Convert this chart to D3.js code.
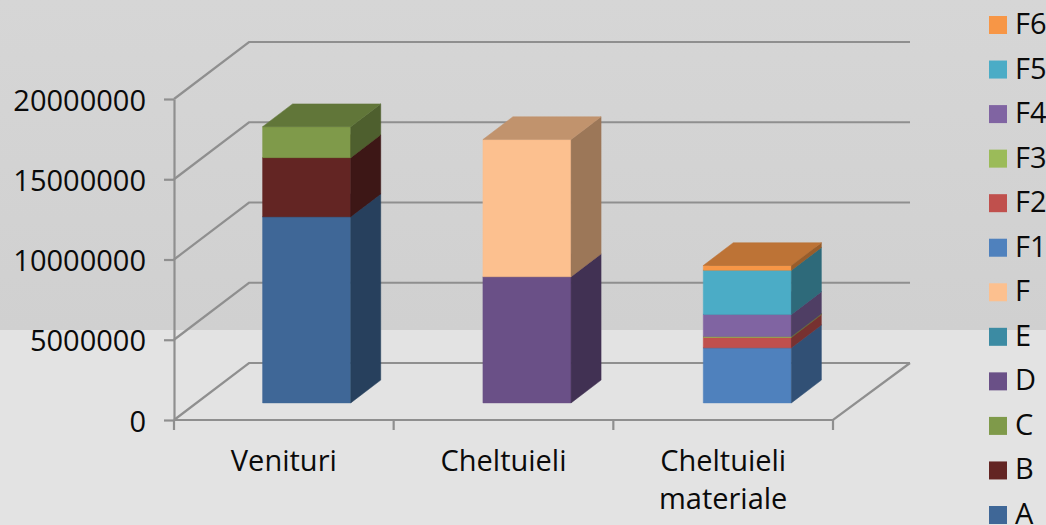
<!DOCTYPE html>
<html>
<head>
<meta charset="utf-8">
<script src="https://cdn.jsdelivr.net/npm/d3@7"></script>
<style>
  html, body { margin: 0; padding: 0; background: #e3e3e3; overflow: hidden; }
  svg { display: block; }
  text { font-family: "Open Sans", sans-serif; fill: #0a0a0a; }
</style>
</head>
<body>
<div id="chart"></div>
<script>
const categories = ['Venituri', 'Cheltuieli', 'Cheltuieli materiale']
const yTicks = [0, 5000000, 10000000, 15000000, 20000000]

// one value per category, in stacking order
const seriesNames = ['A', 'B', 'C', 'D', 'E', 'F', 'F1', 'F2', 'F3', 'F4', 'F5', 'F6']
const seriesColors = ['#3f6797', '#632523', '#7f9a4a', '#6a5087', '#3c8ba3', '#fcc08f',
  '#4f81bd', '#c0504d', '#9bbb59', '#8064a2', '#4bacc6', '#f79646']
const valuesA = [11600000, 0, 0]
const valuesB = [3680000, 0, 0]
const valuesC = [1930000, 0, 0]
const valuesD = [0, 7860000, 0]
const valuesE = [0, 0, 0]
const valuesF = [0, 8550000, 0]
const valuesF1 = [0, 0, 3430000]
const valuesF2 = [0, 0, 650000]
const valuesF3 = [0, 0, 60000]
const valuesF4 = [0, 0, 1370000]
const valuesF5 = [0, 0, 2750000]
const valuesF6 = [0, 0, 300000]
const seriesValues = [valuesA, valuesB, valuesC, valuesD, valuesE, valuesF,
  valuesF1, valuesF2, valuesF3, valuesF4, valuesF5, valuesF6]

const width = 1046
const height = 525
const gridColor = '#8f8f8f'
const fontSize = 29

const svg = d3.select('#chart').append('svg').attr('width', width).attr('height', height)

const xScaler = d3.scaleBand().domain(categories).range([174, 833]).paddingInner(0.595).paddingOuter(0.2975)
// bars and back wall drift slightly right of the tick spacing in the picture
const barScaler = d3.scaleBand().domain(categories).range([174, 835]).paddingInner(0.6).paddingOuter(0.3)
const yScaler = d3.scaleLinear().domain([0, 20000000]).range([420, 99])
// the 3d look: a point further back moves right and up
const depthX = d3.scaleLinear().domain([0, 1]).range([0, 75])
const depthY = d3.scaleLinear().domain([0, 1]).range([0, -57])
const legendY = d3.scalePoint().domain(seriesNames.slice().reverse()).range([25, 515])

const project = (x, y, depth) => [x + depthX(depth), y + depthY(depth)]
const polygon = pts => pts.map(p => p.join(',')).join(' ')

const defs = svg.append('defs')
const gradient = defs.append('linearGradient').attr('id', 'wall').attr('x1', 0).attr('x2', 0).attr('y1', 0).attr('y2', 1)
gradient.append('stop').attr('offset', '0%').attr('stop-color', '#d6d6d6')
gradient.append('stop').attr('offset', '100%').attr('stop-color', '#d0d0d0')

svg.append('rect').attr('width', width).attr('height', height).attr('fill', '#e3e3e3')
svg.append('rect').attr('width', width).attr('height', 330).attr('fill', 'url(#wall)')

// grid lines, going back along the side wall and across the back wall
const grid = svg.append('g').attr('fill', 'none').attr('stroke', gridColor).attr('stroke-width', 2.2)
grid.selectAll('polyline')
  .data(yTicks)
  .join('polyline')
  .attr('points', d => polygon([
    project(xScaler.range()[0], yScaler(d), 0),
    project(xScaler.range()[0], yScaler(d), 1),
    project(barScaler.range()[1], yScaler(d), 1)
  ]))
grid.append('polyline')
  .attr('points', polygon([
    project(xScaler.range()[0], yScaler(0), 0),
    project(xScaler.range()[1], yScaler(0), 0),
    project(barScaler.range()[1], yScaler(0), 1)
  ]))

const yAxis = d3.axisLeft(yScaler).tickValues(yTicks).tickFormat(d3.format('d')).tickSize(10).tickSizeOuter(0).tickPadding(18)
const yAxisGroup = svg.append('g').attr('transform', `translate(${xScaler.range()[0]},0)`).call(yAxis)
yAxisGroup.selectAll('path, line').attr('stroke', gridColor).attr('stroke-width', 2.2)
yAxisGroup.selectAll('text')
  .attr('font-size', fontSize)
  .attr('font-family', '"Open Sans", sans-serif')
  .attr('fill', '#0a0a0a')
  .attr('dy', '0.38em')

// ticks sit between the categories
const tickXs = d3.range(categories.length + 1).map(i => xScaler.range()[0] + i * xScaler.step())
svg.append('g').selectAll('line')
  .data(tickXs)
  .join('line')
  .attr('x1', d => d).attr('x2', d => d)
  .attr('y1', yScaler(0)).attr('y2', yScaler(0) + 10)
  .attr('stroke', gridColor).attr('stroke-width', 2.2)

// stacked boxes
const barDepthFront = 0.3
const barDepthBack = 0.7
const bars = svg.append('g')
categories.forEach((category, catIdx) => {
  let total = 0
  seriesValues.forEach((values, idx) => {
    const value = values[catIdx]
    if (!value) return
    const x0 = barScaler(category)
    const x1 = x0 + barScaler.bandwidth()
    const yBottom = yScaler(total)
    const yTop = yScaler(total + value)
    total += value
    const color = d3.color(seriesColors[idx])
    const faces = [
      { pts: [project(x0, yBottom, barDepthFront), project(x1, yBottom, barDepthFront), project(x1, yTop, barDepthFront), project(x0, yTop, barDepthFront)], fill: color },
      { pts: [project(x1, yBottom, barDepthFront), project(x1, yBottom, barDepthBack), project(x1, yTop, barDepthBack), project(x1, yTop, barDepthFront)], fill: color.darker(1.35) },
      { pts: [project(x0, yTop, barDepthFront), project(x1, yTop, barDepthFront), project(x1, yTop, barDepthBack), project(x0, yTop, barDepthBack)], fill: color.darker(0.75) }
    ]
    bars.append('g').selectAll('polygon')
      .data(faces)
      .join('polygon')
      .attr('points', d => polygon(d.pts))
      .attr('fill', d => d.fill)
      .attr('stroke', d => d.fill)
      .attr('stroke-width', 0.5)
  })
})

// category labels, wrapped only where the reference wraps
const labelLines = { 'Cheltuieli materiale': ['Cheltuieli', 'materiale'] }
const labels = svg.append('g').attr('text-anchor', 'middle').attr('font-size', fontSize)
categories.forEach(category => {
  const text = labels.append('text')
    .attr('x', xScaler(category) + xScaler.bandwidth() / 2)
    .attr('y', 471)
  const lines = labelLines[category] || [category]
  lines.forEach((line, i) => {
    text.append('tspan')
      .attr('x', xScaler(category) + xScaler.bandwidth() / 2)
      .attr('dy', i ? 38 : 0)
      .text(line)
  })
})

const legend = svg.append('g')
seriesNames.forEach((name, idx) => {
  legend.append('rect')
    .attr('x', 989).attr('y', legendY(name) - 9)
    .attr('width', 18).attr('height', 18)
    .attr('fill', seriesColors[idx])
  legend.append('text')
    .attr('x', 1015).attr('y', legendY(name) + 9)
    .attr('font-size', fontSize)
    .text(name)
})
</script>
</body>
</html>
